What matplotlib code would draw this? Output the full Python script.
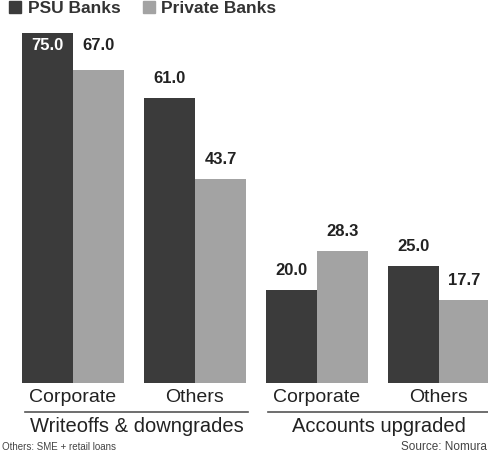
import matplotlib
matplotlib.use("Agg")
import matplotlib.pyplot as plt
import numpy as np

plt.rcParams['font.family'] = ['Liberation Sans Narrow', 'Liberation Sans', 'DejaVu Sans']

# data
categories = ['Corporate', 'Others', 'Corporate', 'Others']
groups = ['Writeoffs & downgrades', 'Accounts upgraded']
psu = [75.0, 61.0, 20.0, 25.0]
private = [67.0, 43.7, 28.3, 17.7]
series_names = ['PSU Banks', 'Private Banks']

dark = '#3b3b3b'
light = '#a3a3a3'

W, H = 489, 454
fig = plt.figure(figsize=(W / 100, H / 100), dpi=100)
ax = fig.add_axes([0, (H - 383) / H, 1, 383 / H])

x = np.arange(len(categories))
w = 0.42
b1 = ax.bar(x - w / 2, psu, w, color=dark)
b2 = ax.bar(x + w / 2, private, w, color=light)

ax.set_xlim(-0.598, 3.41)
ax.set_ylim(0, 383 / 4.667)
ax.axis('off')

# value labels
for bar, v in zip(b1, psu):
    cx = bar.get_x() + bar.get_width() / 2
    if v == max(psu):
        ax.annotate(f'{v:.1f}', (cx, v), xytext=(0, -9), textcoords='offset points',
                    ha='center', va='center', color='white', fontsize=12, fontweight='bold')
    else:
        ax.annotate(f'{v:.1f}', (cx, v), xytext=(0, 14), textcoords='offset points',
                    ha='center', va='center', color='#222222', fontsize=12, fontweight='bold')
for bar, v in zip(b2, private):
    cx = bar.get_x() + bar.get_width() / 2
    off = 18 if v == max(private) else 14
    ax.annotate(f'{v:.1f}', (cx, v), xytext=(0, off), textcoords='offset points',
                ha='center', va='center', color='#222222', fontsize=12, fontweight='bold')

# category labels
for xi, c in zip(x, categories):
    fx = (xi + 0.598) / (3.41 + 0.598)
    fig.text(fx, 1 - 397 / H, c, ha='center', va='center', fontsize=14, color='#222222')

# group brackets + labels
spans = [(25, 248), (268, 489)]
for (x0, x1), g in zip(spans, groups):
    fig.add_artist(plt.Line2D([x0 / W, x1 / W], [1 - 412 / H, 1 - 412 / H],
                              color='#555555', lw=1.2))
    fig.text((x0 + x1) / 2 / W, 1 - 427 / H, g, ha='center', va='center',
             fontsize=14.5, color='#222222')

# footnotes
fig.text(2 / W, 1 - 447 / H, 'Others: SME + retail loans', ha='left', va='center',
         fontsize=7, color='#444444')
fig.text(487 / W, 1 - 447 / H, 'Source: Nomura', ha='right', va='center',
         fontsize=8.5, color='#444444')

# legend
fig.patches.append(plt.Rectangle((9 / W, 1 - 13 / H), 12 / W, 12 / H,
                                 transform=fig.transFigure, color=dark))
fig.text(28 / W, 1 - 13 / H, series_names[0], ha='left', va='baseline',
         fontsize=12.5, fontweight='bold', color='#333333')
fig.patches.append(plt.Rectangle((143 / W, 1 - 13 / H), 12 / W, 12 / H,
                                 transform=fig.transFigure, color=light))
fig.text(161 / W, 1 - 13 / H, series_names[1], ha='left', va='baseline',
         fontsize=12.5, fontweight='bold', color='#333333')

fig.savefig('out.png', dpi=100)
